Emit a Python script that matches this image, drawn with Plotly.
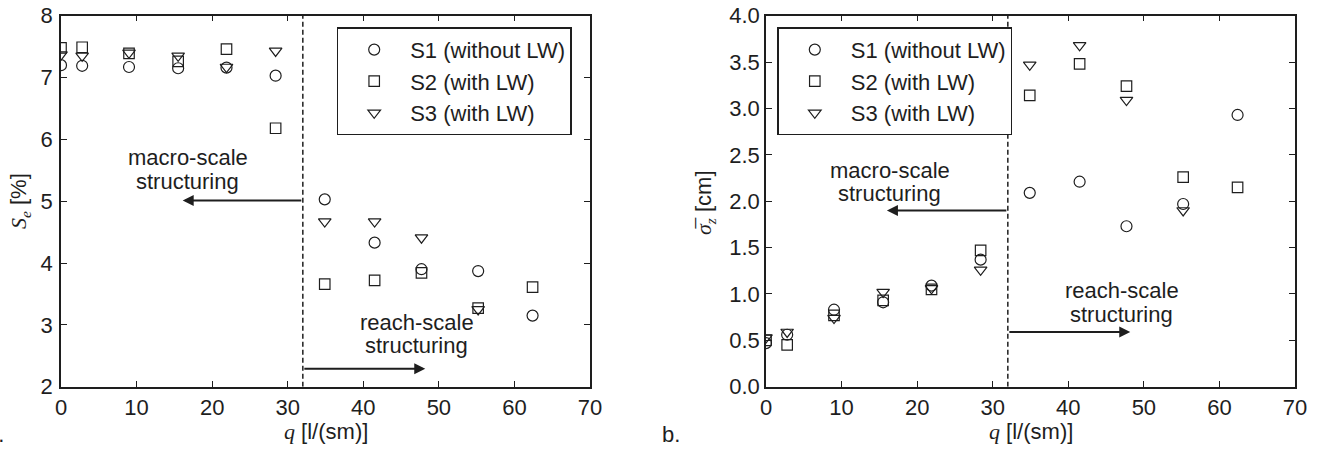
import plotly.graph_objects as go

# ---------------- data ----------------
q = [0, 2.8, 9.0, 15.5, 21.9, 28.4, 34.9, 41.5, 47.7, 55.2, 62.4]

se_s1 = [7.20, 7.19, 7.17, 7.15, 7.16, 7.03, 5.03, 4.33, 3.90, 3.87, 3.15]
se_s2 = [7.48, 7.49, 7.39, 7.26, 7.46, 6.18, 3.66, 3.72, 3.84, 3.27, 3.61]
se_s3 = [7.37, 7.35, 7.40, 7.35, 7.17, 7.43, 4.67, 4.67, 4.41, 3.25, None]

sz_s1 = [0.47, 0.56, 0.83, 0.91, 1.09, 1.37, 2.09, 2.21, 1.73, 1.97, 2.93]
sz_s2 = [0.50, 0.45, 0.77, 0.93, 1.05, 1.47, 3.14, 3.48, 3.24, 2.26, 2.15]
sz_s3 = [0.53, 0.59, 0.74, 1.02, 1.06, 1.26, 3.47, 3.68, 3.09, 1.90, None]

series_names = ["S1 (without LW)", "S2 (with LW)", "S3 (with LW)"]
q_threshold = 32

# ---------------- style ----------------
W, H = 1322, 452
INK = "#1e1e1e"
SANS = "Liberation Sans, Arial, sans-serif"
FS = 22

symbols = ["circle-open", "square-open", "triangle-down-open"]
sizes = [11, 10.5, 11]


def px(x):
    return x / W


def py(y):
    return 1 - y / H


xdom1 = [px(61), px(590)]
xdom2 = [px(766), px(1295)]
ydom = [py(386.7), py(15.7)]

fig = go.Figure()

for i, (ys, name) in enumerate(zip([se_s1, se_s2, se_s3], series_names)):
    fig.add_trace(go.Scatter(
        x=q, y=ys, mode="markers", name=name, legend="legend",
        marker=dict(symbol=symbols[i], size=sizes[i], color=INK,
                    line=dict(width=1.2, color=INK)),
        xaxis="x", yaxis="y", cliponaxis=True,
    ))
for i, (ys, name) in enumerate(zip([sz_s1, sz_s2, sz_s3], series_names)):
    fig.add_trace(go.Scatter(
        x=q, y=ys, mode="markers", name=name, legend="legend2",
        marker=dict(symbol=symbols[i], size=sizes[i], color=INK,
                    line=dict(width=1.2, color=INK)),
        xaxis="x2", yaxis="y2", cliponaxis=True,
    ))

axis_common = dict(
    showline=True, linecolor=INK, linewidth=1.5, mirror="allticks",
    ticks="inside", ticklen=6, tickwidth=1.2, tickcolor=INK,
    showgrid=False, zeroline=False, automargin=False,
    tickfont=dict(family=SANS, size=FS, color=INK),
)

legend_common = dict(
    xanchor="left", yanchor="top",
    bgcolor="white", bordercolor=INK, borderwidth=1.5,
    font=dict(family=SANS, size=FS, color=INK),
    itemwidth=62, tracegroupgap=0,
)

fig.update_layout(
    width=W, height=H,
    margin=dict(l=0, r=0, t=0, b=0, pad=0),
    paper_bgcolor="white", plot_bgcolor="white",
    showlegend=True,
    xaxis=dict(domain=xdom1, range=[0, 70], tickvals=list(range(0, 71, 10)),
               anchor="y", **axis_common),
    yaxis=dict(domain=ydom, range=[2, 8], tickvals=list(range(2, 9)),
               anchor="x", ticklabelstandoff=2, **axis_common),
    xaxis2=dict(domain=xdom2, range=[0, 70], tickvals=list(range(0, 71, 10)),
                anchor="y2", **axis_common),
    yaxis2=dict(domain=ydom, range=[0, 4], tickvals=[0, 0.5, 1, 1.5, 2, 2.5, 3, 3.5, 4],
                tickformat=".1f", anchor="x2", ticklabelstandoff=0, **axis_common),
    legend=dict(x=px(336.7), y=py(27.3), **legend_common),
    legend2=dict(x=px(777.3), y=py(27.3), **legend_common),
)

# dashed threshold lines
for xr, yr, y0, y1 in [("x", "y", 2, 8), ("x2", "y2", 0, 4)]:
    fig.add_shape(type="line", xref=xr, yref=yr, x0=q_threshold, x1=q_threshold,
                  y0=y0, y1=y1, line=dict(color=INK, width=1.5, dash="5px,3px"))

# arrows and region labels
arrow_specs = [
    # xref, yref, arrow tip q, arrow y, text centre q, text y line1, line2
    ("x", "y", 16.1, 5.01, 16.8, 5.70, 5.32, "macro-scale", "structuring"),
    ("x", "y", 48.2, 2.29, 47.1, 3.04, 2.66, "reach-scale", "structuring"),
    ("x2", "y2", 16.0, 1.90, 16.4, 2.33, 2.08, "macro-scale", "structuring"),
    ("x2", "y2", 48.2, 0.59, 47.1, 1.04, 0.78, "reach-scale", "structuring"),
]
for xr, yr, tip, ya, tq, ty1, ty2, t1, t2 in arrow_specs:
    fig.add_annotation(x=tip, y=ya, ax=q_threshold, ay=ya, xref=xr, yref=yr,
                       axref=xr, ayref=yr, text="", showarrow=True,
                       arrowhead=2, arrowsize=1.1, arrowwidth=2, arrowcolor=INK,
                       standoff=0, startstandoff=0)
    for tt, yy in [(t1, ty1), (t2, ty2)]:
        fig.add_annotation(x=tq, y=yy, xref=xr, yref=yr, text=tt, showarrow=False,
                           font=dict(family=SANS, size=FS, color=INK),
                           xanchor="center", yanchor="middle")

# axis titles
xt = "<span style='font-family:Liberation Serif'><i>q</i></span> [l/(sm)]"
for cx in [(61 + 590) / 2, (766 + 1295) / 2]:
    fig.add_annotation(x=px(cx), y=py(431), xref="paper", yref="paper", text=xt,
                       showarrow=False, font=dict(family=SANS, size=FS, color=INK),
                       xanchor="center", yanchor="middle")

fig.add_annotation(x=px(20), y=py(201), xref="paper", yref="paper",
                   text="<span style='font-family:Liberation Serif'><i>S<sub>e</sub></i></span> [%]",
                   textangle=-90, showarrow=False,
                   font=dict(family=SANS, size=FS, color=INK),
                   xanchor="center", yanchor="middle")
fig.add_annotation(x=px(705), y=py(203), xref="paper", yref="paper",
                   text="<span style='font-family:Liberation Serif'><i>σ\u0305<sub>z</sub></i></span> [cm]",
                   textangle=-90, showarrow=False,
                   font=dict(family=SANS, size=FS, color=INK),
                   xanchor="center", yanchor="middle")

# panel labels
fig.add_annotation(x=px(6), y=py(434), xref="paper", yref="paper", text="a.",
                   showarrow=False, font=dict(family=SANS, size=FS, color=INK),
                   xanchor="right", yanchor="middle")
fig.add_annotation(x=px(660), y=py(434), xref="paper", yref="paper", text="b.",
                   showarrow=False, font=dict(family=SANS, size=FS, color=INK),
                   xanchor="left", yanchor="middle")

fig.write_html("out.html", config={"displayModeBar": False},
               post_script="document.body.style.margin='0';document.body.style.overflow='hidden';")
